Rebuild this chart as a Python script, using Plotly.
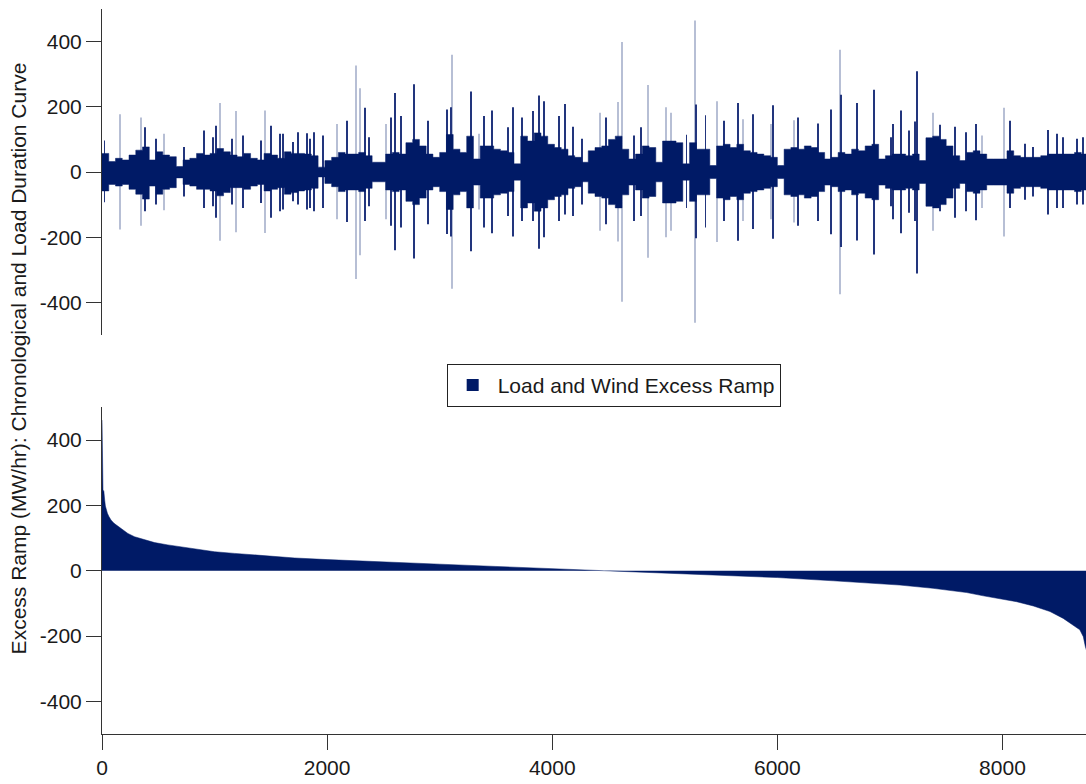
import plotly.graph_objects as go

# ---------------- data ----------------
BLOCK_HOURS = 60  # width of each envelope block of the chronological series

# dense-band envelope of the chronological excess ramp, one value per 60-h block
band_pos = [57, 32, 42, 37, 52, 67, 77, 37, 62, 52, 47, 17, 37, 42, 57, 52, 57, 72, 62, 52,
            47, 57, 42, 37, 57, 52, 42, 62, 57, 57,
            55, 50, 15, 35, 45, 60, 55, 55, 60, 50, 30, 30, 55, 60, 55, 90, 100, 80, 55, 45,
            60, 115, 70, 60, 110, 40, 80, 80, 70,
            65, 60, 25, 110, 95, 120, 110, 85, 75, 70, 50, 45, 30, 65, 75, 80, 100, 110, 70, 40,
            55, 80, 75, 30, 95, 95, 90, 25,
            90, 70, 70, 20, 80, 85, 75, 85, 65, 60, 55, 50, 45, 20, 70, 75, 70, 80, 75, 60,
            40, 45, 60, 55, 70, 65, 80, 85, 40,
            50, 55, 55, 50, 55, 35, 105, 110, 100, 80, 50, 35, 60, 65, 55, 40, 40, 40, 65, 50,
            45, 45, 45, 50, 55, 55, 55, 55, 60, 55]
band_neg = [-58, -38, -43, -38, -53, -68, -83, -43, -68, -53, -48, -18, -38, -43, -53, -53, -58, -73, -63, -48,
            -48, -53, -43, -38, -58, -53, -48, -68, -63, -58,
            -55, -50, -15, -35, -45, -60, -55, -55, -60, -50, -30, -30, -55, -60, -55, -90, -100, -80, -55, -45,
            -60, -115, -70, -60, -110, -40, -80, -80, -70,
            -65, -60, -25, -110, -95, -120, -110, -85, -75, -70, -50, -45, -30, -65, -75, -80, -100, -110, -70, -40,
            -55, -80, -75, -30, -95, -95, -90, -25,
            -90, -70, -70, -20, -80, -85, -75, -85, -65, -60, -55, -50, -45, -20, -70, -75, -70, -80, -75, -60,
            -40, -45, -60, -55, -70, -65, -80, -85, -40,
            -50, -55, -55, -50, -55, -35, -105, -110, -100, -80, -50, -35, -60, -65, -55, -40, -40, -40, -65, -50,
            -45, -45, -45, -50, -55, -55, -55, -55, -60, -55]

# individual hourly spikes that stand out of the band (dark = drawn solid)
spike_hours = [22, 384, 482, 727, 905, 985, 1009, 1154, 1252, 1415, 1504, 1578, 1607, 1696, 1741,
               1824, 1844, 1883, 1963, 2176, 2339, 2375,
               2564, 2603, 2659, 2772, 2896, 3062, 3104, 3275, 3394, 3468, 3607, 3651, 3731, 3829,
               3883, 3927, 4060, 4114, 4185, 4265, 4481, 4727, 4786, 5193, 5275, 5362, 5528, 5652,
               5785, 5963, 6185, 6363, 6476, 6562, 6710, 6855, 7009, 7030, 7095, 7169, 7222, 7243,
               7444, 7578, 7675, 7764, 8067, 8203, 8274, 8407, 8481, 8535, 8659, 8712]
spike_up = [97, 137, 102, 77, 127, 107, 142, 102, 112, 97, 142, 117, 117, 92, 122,
            119, 102, 122, 112, 157, 197, 107,
            167, 242, 172, 269, 157, 192, 199, 247, 172, 189, 137, 199, 167, 187,
            235, 217, 172, 209, 139, 102, 167, 112, 137, 114, 207, 174, 157, 212,
            177, 205, 167, 149, 192, 237, 212, 252, 107, 147, 189, 127, 155, 309,
            145, 139, 122, 147, 157, 87, 77, 129, 117, 107, 102, 107]
spike_down = [-93, -120, -100, -75, -110, -105, -140, -100, -110, -95, -140, -120, -115, -90, -100,
              -115, -110, -120, -110, -153, -150, -105,
              -165, -240, -170, -265, -160, -190, -198, -243, -170, -188, -135, -198, -150, -150,
              -235, -200, -150, -130, -135, -100, -160, -150, -135, -110, -203, -170, -150, -211,
              -175, -205, -165, -150, -191, -230, -210, -253, -105, -145, -188, -125, -150, -311,
              -120, -140, -120, -148, -110, -85, -75, -130, -110, -110, -100, -100]

# single-hour spikes that appear faint (anti-aliased)
light_hours = [162, 348, 547, 1050, 1193, 1450, 2090, 2253, 2295, 2526, 3110, 3350, 4428, 4582,
               4623, 4854, 5014, 5059, 5267, 5462, 5697, 5942, 6150, 6556, 7379, 7815, 8013]
light_up = [177, 167, 117, 212, 187, 189, 147, 327, 257, 147, 360, 117, 182, 215,
            399, 267, 199, 182, 465, 217, 162, 147, 159, 375, 182, 112, 197]
light_down = [-176, -165, -117, -211, -185, -187, -145, -328, -255, -145, -358, -115, -180, -213,
              -398, -263, -200, -180, -462, -215, -150, -145, -155, -375, -180, -110, -198]

# load duration curve (sorted excess ramp), hour rank vs MW/hr
dur_hours = [0, 1, 2, 7, 9, 16, 18, 24, 30, 38, 48, 60, 80, 107, 148, 192, 230, 289, 378, 467,
             585, 704, 822, 1000, 1178, 1355, 1533, 1711, 2000, 2500, 3000, 3500, 4000, 4500,
             5000, 5500, 6000, 6500, 7089, 7383, 7682, 7830, 8000, 8126, 8274, 8422, 8540,
             8627, 8687, 8718, 8736, 8760]
dur_values = [461, 461, 326, 326, 245, 245, 216, 216, 198, 186, 176, 167, 155, 145, 135, 124, 114,
              104, 94, 86, 79, 73, 65, 58, 53, 48, 45, 39, 34, 26, 20, 13, 6, 0,
              -6, -13, -21, -31, -44, -54, -67, -77, -88, -95, -108, -125, -146,
              -166, -181, -202, -232, -260]

x_ticks = [0, 2000, 4000, 6000, 8000]
y_ticks = [-400, -200, 0, 200, 400]
y_tick_text = ["-400", "-200", "0", "200", "400"]
series_name = "Load and Wind Excess Ramp"
y_title = "Excess Ramp (MW/hr): Chronological and Load Duration Curve"

# ---------------- figure ----------------
NAVY = "#001a66"
DARK_SPIKE = "#22357d"
LIGHT_SPIKE = "#b7bfd5"
FONT = "Liberation Sans, Arial, sans-serif"

# step envelope: each block value held from its start hour to the next block
block_edges = [BLOCK_HOURS * k for k in range(len(band_pos) + 1)]
band_pos_steps = band_pos + band_pos[-1:]
band_neg_steps = band_neg + band_neg[-1:]

fig = go.Figure()

# top panel: chronological
fig.add_trace(go.Bar(x=light_hours, y=light_up, width=8, marker=dict(color=LIGHT_SPIKE, line=dict(width=0)),
                     xaxis="x2", yaxis="y2", showlegend=False, hoverinfo="skip"))
fig.add_trace(go.Bar(x=light_hours, y=light_down, width=8, marker=dict(color=LIGHT_SPIKE, line=dict(width=0)),
                     xaxis="x2", yaxis="y2", showlegend=False, hoverinfo="skip"))
fig.add_trace(go.Scatter(x=block_edges, y=band_pos_steps, mode="lines", line_shape="hv", fill="tozeroy",
                         line=dict(color=NAVY, width=0.5), fillcolor=NAVY,
                         xaxis="x2", yaxis="y2", showlegend=False))
fig.add_trace(go.Scatter(x=block_edges, y=band_neg_steps, mode="lines", line_shape="hv", fill="tozeroy",
                         line=dict(color=NAVY, width=0.5), fillcolor=NAVY,
                         xaxis="x2", yaxis="y2", showlegend=False))
fig.add_trace(go.Bar(x=spike_hours, y=spike_up, width=8, marker=dict(color=DARK_SPIKE, line=dict(width=0)),
                     xaxis="x2", yaxis="y2", showlegend=False))
fig.add_trace(go.Bar(x=spike_hours, y=spike_down, width=8, marker=dict(color=DARK_SPIKE, line=dict(width=0)),
                     xaxis="x2", yaxis="y2", showlegend=False))
# legend entry for the series (bar swatch)
fig.add_trace(go.Bar(x=[None], y=[None], name=series_name, marker=dict(color=NAVY, line=dict(width=0)),
                     xaxis="x2", yaxis="y2", showlegend=True))

# bottom panel: duration curve
fig.add_trace(go.Scatter(x=dur_hours, y=dur_values, mode="lines", fill="tozeroy",
                         line=dict(color=NAVY, width=0.5), fillcolor=NAVY,
                         xaxis="x", yaxis="y", showlegend=False))

axis_common = dict(showgrid=False, zeroline=False, showline=True, linecolor="#333", linewidth=1,
                   ticks="outside", ticklen=15, tickcolor="#333", tickwidth=1,
                   tickfont=dict(family=FONT, size=21, color="#1a1a1a"))

X_RANGE = [0, 8742]
fig.update_layout(
    width=1086, height=784,
    margin=dict(l=102, r=0, t=9, b=50),
    paper_bgcolor="white", plot_bgcolor="white",
    barmode="overlay",
    font=dict(family=FONT, size=21, color="#1a1a1a"),
    xaxis=dict(domain=[0, 1], anchor="y", range=X_RANGE, tickvals=x_ticks, **axis_common),
    yaxis=dict(domain=[0, 0.4505], anchor="x", range=[-500, 500], tickvals=y_ticks,
               ticktext=y_tick_text, **axis_common),
    xaxis2=dict(domain=[0, 1], anchor="y2", range=X_RANGE, matches="x", showticklabels=False,
                showline=False, ticks="", showgrid=False, zeroline=False),
    yaxis2=dict(domain=[0.5503, 1], anchor="x2", range=[-500, 500], tickvals=y_ticks,
                ticktext=y_tick_text, **axis_common),
    legend=dict(x=0.52, y=0.481, xanchor="center", yanchor="middle", itemwidth=40,
                bgcolor="white", bordercolor="#222", borderwidth=1,
                font=dict(family=FONT, size=21, color="#1a1a1a")),
    annotations=[dict(text=y_title, textangle=-90, xref="paper", yref="paper",
                      x=-0.085, y=0.5186, xanchor="center", yanchor="middle", showarrow=False,
                      font=dict(family=FONT, size=21, color="#1a1a1a"))],
)

fig.write_html("out.html", config={"displayModeBar": False},
               post_script="document.body.style.margin='0';document.body.style.padding='0';")
